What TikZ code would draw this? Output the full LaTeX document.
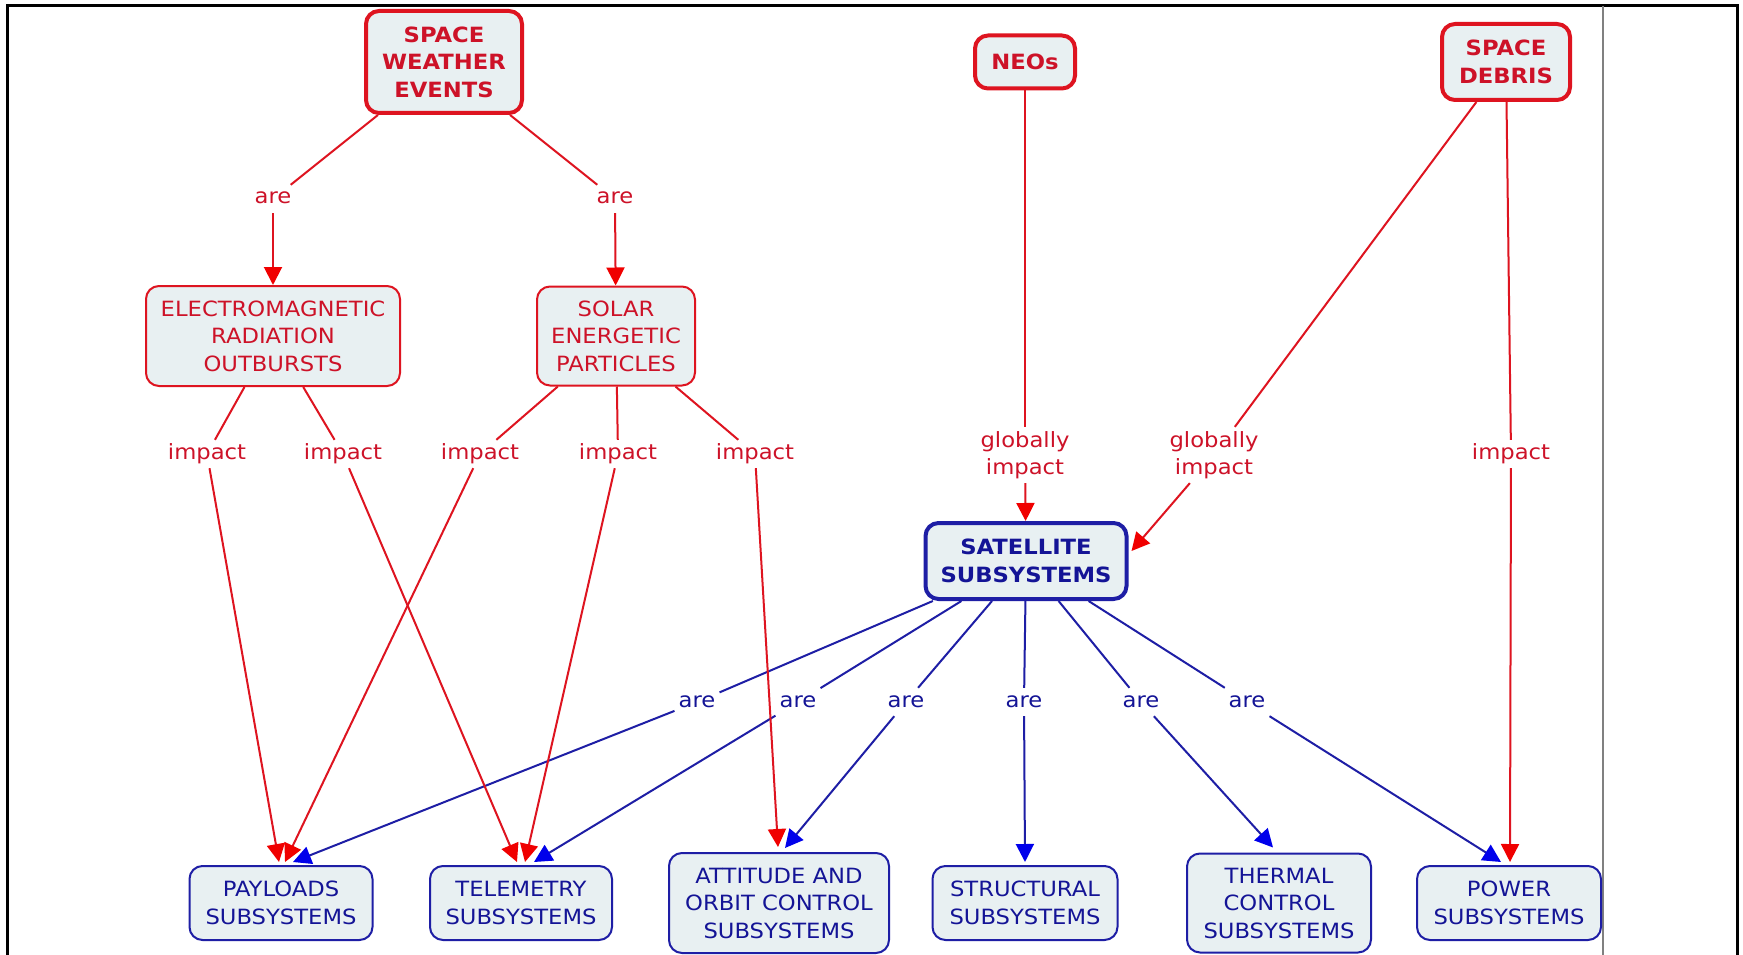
\documentclass[tikz,border=0pt]{standalone}
\usepackage{fontspec}
\setmainfont{DejaVu Sans}[FakeStretch=1.08]
\usetikzlibrary{arrows.meta,calc}
\definecolor{rline}{RGB}{222,20,32}
\definecolor{rtext}{RGB}{205,18,40}
\definecolor{rhead}{RGB}{240,0,0}
\definecolor{bline}{RGB}{30,30,165}
\definecolor{btext}{RGB}{20,20,150}
\definecolor{bhead}{RGB}{0,0,235}
\definecolor{cfill}{RGB}{232,240,242}
\begin{document}
\begin{tikzpicture}[x=1pt,y=-1pt,
  base/.style={rounded corners=13pt, fill=cfill, align=center, inner sep=2pt, font=\fontsize{21}{27.5}\selectfont},
  rbox/.style={base, draw=rline, text=rtext, line width=2pt},
  rboxT/.style={rbox, line width=4pt, font=\fontsize{21}{27.5}\selectfont\bfseries},
  bbox/.style={base, draw=bline, text=btext, line width=2pt},
  bboxT/.style={bbox, line width=4pt, font=\fontsize{21}{27.5}\selectfont\bfseries},
  lab/.style={inner sep=4pt, text height=15pt, text depth=5pt, align=center, font=\fontsize{21}{27.5}\selectfont},
  glab/.style={inner sep=4pt, align=center, font=\fontsize{21}{27.5}\selectfont, text=rtext},
  rlab/.style={lab, text=rtext},
  blab/.style={lab, text=btext},
  rl/.style={draw=rline, line width=2pt},
  ra/.style={rl, -{Triangle[length=18pt,width=18pt,color=rhead]}},
  bl/.style={draw=bline, line width=2pt},
  ba/.style={bl, -{Triangle[length=18pt,width=18pt,color=bhead]}}
]
\useasboundingbox (0,0) rectangle (1743,955);
\fill[white] (0,0) rectangle (1743,955);
\draw[line width=3pt] (7,955) -- (7,6) -- (1737,6) -- (1737,955);
\draw[gray, line width=1.2pt] (1603,6) -- (1603,955);

% concepts
\node[rboxT, minimum width=156pt, minimum height=102pt] (swe) at (444,62) {SPACE\\WEATHER\\EVENTS};
\node[rbox, minimum width=254pt, minimum height=100pt] (em) at (273,336) {ELECTROMAGNETIC\\RADIATION\\OUTBURSTS};
\node[rbox, minimum width=158pt, minimum height=99pt] (sep) at (616,336) {SOLAR\\ENERGETIC\\PARTICLES};
\node[rboxT, minimum width=100pt, minimum height=53pt] (neo) at (1025,62) {NEOs};
\node[rboxT, minimum width=128pt, minimum height=76pt] (deb) at (1506,62) {SPACE\\DEBRIS};
\node[bboxT, minimum width=201pt, minimum height=76pt] (sat) at (1026,561) {SATELLITE\\SUBSYSTEMS};
\node[bbox, minimum width=183pt, minimum height=74pt] (pay) at (281,903) {PAYLOADS\\SUBSYSTEMS};
\node[bbox, minimum width=182pt, minimum height=74pt] (tel) at (521,903) {TELEMETRY\\SUBSYSTEMS};
\node[bbox, minimum width=220pt, minimum height=100pt] (att) at (779,903) {ATTITUDE AND\\ORBIT CONTROL\\SUBSYSTEMS};
\node[bbox, minimum width=185pt, minimum height=74pt] (str) at (1025,903) {STRUCTURAL\\SUBSYSTEMS};
\node[bbox, minimum width=184pt, minimum height=99pt] (the) at (1279,903) {THERMAL\\CONTROL\\SUBSYSTEMS};
\node[bbox, minimum width=184pt, minimum height=74pt] (pow) at (1509,903) {POWER\\SUBSYSTEMS};

% linking phrases
\node[rlab] (areL) at (273,199) {are};
\node[rlab] (areR) at (615,199) {are};
\node[rlab] (imp1) at (207,454) {impact};
\node[rlab] (imp2) at (343,454) {impact};
\node[rlab] (imp3) at (480,454) {impact};
\node[rlab] (imp4) at (618,454) {impact};
\node[rlab] (imp5) at (755,454) {impact};
\node[glab] (gi1) at (1025,455) {globally\\impact};
\node[glab] (gi2) at (1214,455) {globally\\impact};
\node[rlab] (imp6) at (1511,454) {impact};
\node[blab] (b1) at (697,702) {are};
\node[blab] (b2) at (798,702) {are};
\node[blab] (b3) at (906,702) {are};
\node[blab] (b4) at (1024,702) {are};
\node[blab] (b5) at (1141,702) {are};
\node[blab] (b6) at (1247,702) {are};

% blue connectors
\draw[bl] (sat) -- (b1); \draw[ba] (b1) -- ($(pay.north)+(12,-3)$);
\draw[bl] (sat) -- (b2); \draw[ba] (b2) -- ($(tel.north)+(13,-3)$);
\draw[bl] (sat) -- (b3); \draw[ba] (b3) -- ($(att.north)+(6,-4)$);
\draw[bl] (sat) -- (b4); \draw[ba] (b4) -- ($(str.north)+(0,-3)$);
\draw[bl] (sat) -- (b5); \draw[ba] (b5) -- ($(the.north)+(-6,-5)$);
\draw[bl] (sat) -- (b6); \draw[ba] (b6) -- ($(pow.north)+(-8,-3)$);

% red connectors
\draw[rl] (swe) -- (areL); \draw[ra] (areL) -- (em);
\draw[rl] (swe) -- (areR); \draw[ra] (areR) -- (sep);
\draw[rl] (em) -- (imp1); \draw[rl] (em) -- (imp2);
\draw[rl] (sep) -- (imp3); \draw[rl] (sep) -- (imp4); \draw[rl] (sep) -- (imp5);
\draw[ra] (imp1) -- ($(pay.north)+(-2,-3)$);
\draw[ra] (imp3) -- ($(pay.north)+(4,-3)$);
\draw[ra] (imp2) -- ($(tel.north)+(-4,-3)$);
\draw[ra] (imp4) -- ($(tel.north)+(4,-3)$);
\draw[ra] (imp5) -- ($(att.north)+(-1,-5)$);
\draw[rl] (neo) -- (gi1); \draw[ra] (gi1) -- (sat);
\draw[rl] (deb) -- (gi2); \draw[ra] (gi2) -- ($(sat.east)+(3,-10)$);
\draw[rl] (deb) -- (imp6); \draw[ra] (imp6) -- ($(pow.north)+(1,-3)$);
\end{tikzpicture}
\end{document}
